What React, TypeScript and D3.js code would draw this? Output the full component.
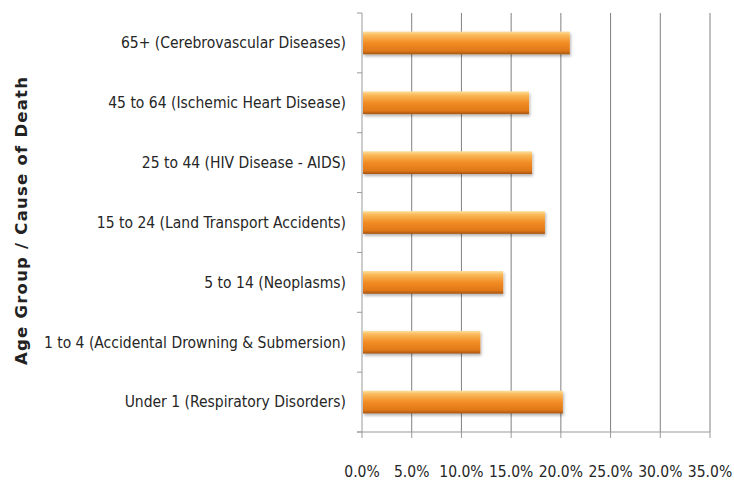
import React from "react";
import * as d3 from "d3";

const categories = [
  "65+ (Cerebrovascular Diseases)",
  "45 to 64 (Ischemic Heart Disease)",
  "25 to 44 (HIV Disease - AIDS)",
  "15 to 24 (Land Transport Accidents)",
  "5 to 14 (Neoplasms)",
  "1 to 4 (Accidental Drowning & Submersion)",
  "Under 1 (Respiratory Disorders)",
];
const values = [20.8, 16.7, 17.0, 18.3, 14.1, 11.8, 20.1];
const xTicks = [0, 5, 10, 15, 20, 25, 30, 35];
const yTitle = "Age Group / Cause of Death";

const W = 734, H = 483;
const M = { left: 362, right: 24, top: 13, bottom: 51 };
const labelFont = "'Liberation Sans Narrow', 'DejaVu Sans Condensed', 'Open Sans', sans-serif";

export default function App() {
  const x = d3.scaleLinear().domain([0, 35]).range([M.left, W - M.right]);
  const y = d3.scaleBand().domain(categories).range([M.top, H - M.bottom]).paddingInner(0.62).paddingOuter(0.31);
  const bandEdges = d3.range(categories.length + 1).map((i) => M.top + i * ((H - M.bottom - M.top) / categories.length));
  const bottom = H - M.bottom;
  return (
    <svg width={W} height={H} style={{ position: "absolute", left: 0, top: 0, background: "#fff" }}>
      <defs>
        <linearGradient id="barG" x1="0" y1="0" x2="0" y2="1">
          <stop offset="0" stopColor="#fde0a0" />
          <stop offset="0.15" stopColor="#fabb5c" />
          <stop offset="0.5" stopColor="#f28c24" />
          <stop offset="0.85" stopColor="#e07818" />
          <stop offset="1" stopColor="#a55410" />
        </linearGradient>
        <filter id="sh" x="-5%" y="-30%" width="110%" height="170%">
          <feDropShadow dx="1" dy="2" stdDeviation="1.5" floodColor="#000" floodOpacity="0.3" />
        </filter>
      </defs>
      {xTicks.slice(1).map((t) => (
        <line key={t} x1={x(t)} x2={x(t)} y1={M.top} y2={bottom} stroke="#808080" strokeWidth={1} />
      ))}
      <line x1={M.left} x2={M.left} y1={M.top} y2={bottom} stroke="#9a9a9a" />
      <line x1={M.left - 5} x2={x(35)} y1={bottom} y2={bottom} stroke="#9a9a9a" />
      {bandEdges.map((e, i) => (
        <line key={i} x1={M.left - 5} x2={M.left} y1={e} y2={e} stroke="#9a9a9a" />
      ))}
      {xTicks.map((t) => (
        <line key={t} x1={x(t)} x2={x(t)} y1={bottom} y2={bottom + 6} stroke="#9a9a9a" />
      ))}
      {categories.map((c, i) => (
        <rect key={c} x={x(0) + 1} y={y(c)} width={x(values[i]) - x(0)} height={y.bandwidth()} fill="url(#barG)" filter="url(#sh)" />
      ))}
      {categories.map((c) => (
        <text key={c} x={346} y={(y(c) ?? 0) + y.bandwidth() / 2} dy="0.35em" textAnchor="end" fontFamily={labelFont} fontSize={15.5} fill="#262626">
          {c}
        </text>
      ))}
      {xTicks.map((t) => (
        <text key={t} x={x(t)} y={477} textAnchor="middle" fontFamily={labelFont} fontSize={15.5} fill="#262626">
          {t.toFixed(1)}%
        </text>
      ))}
      <text transform={`translate(27,221) rotate(-90)`} textAnchor="middle" fontFamily="'DejaVu Sans', sans-serif" fontWeight="bold" fontSize={16.5} textLength={288} lengthAdjust="spacing" fill="#222">
        {yTitle}
      </text>
    </svg>
  );
}
